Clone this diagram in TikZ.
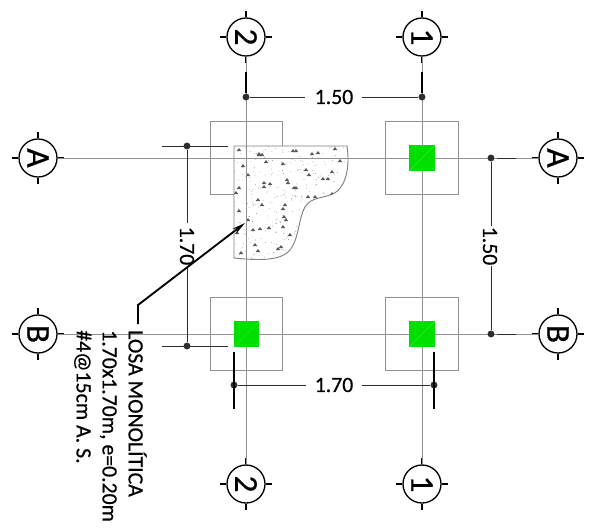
\documentclass[tikz,border=0pt]{standalone}
\usepackage{fontspec}
\setmainfont[FakeBold=0.6,BoldFont=Carlito]{Carlito}
\newfontfamily\heavyfont[FakeBold=0.6]{Carlito}
\usepackage{xcolor}
\usepackage{tikz}
\usetikzlibrary{arrows.meta}
\definecolor{nicegreen}{RGB}{0, 224, 0}
\definecolor{axisgray}{RGB}{145, 145, 145}
\definecolor{dimblack}{RGB}{45, 45, 45}
\tikzset{
	bubble/.style = {circle, draw = black, line width = 1pt, fill = white, minimum size = 28.5pt, inner sep = 0pt, rotate = -90, font = \heavyfont\fontsize{25}{25}\selectfont},
	axisline/.style = {draw = axisgray, line width = 0.7pt},
	footing/.style = {rectangle, draw = axisgray, line width = 0.7pt, minimum size = 54.5pt, inner sep = 0pt},
	column/.style = {rectangle, fill = nicegreen, minimum size = 19pt, inner sep = 0pt},
	dimdot/.style = {circle, fill = dimblack, minimum size = 5.2pt, inner sep = 0pt},
	dimline/.style = {draw = dimblack, line width = 0.7pt},
	dimtext/.style = {inner sep = 0pt, font = \heavyfont\fontsize{16.3}{16.3}\selectfont}
}

\begin{document}
\begin{tikzpicture}[x = 0.75pt, y = -0.75pt]
		\useasboundingbox (0,0) rectangle (589,529);
		% footings
		\node (f1) at (246.5,158) [footing] {};
		\node (f2) at (422,158) [footing] {};
		\node (f3) at (246.5,334) [footing] {};
		\node (f4) at (422,334) [footing] {};
		% slab
		\draw [draw = gray, line width = 0.7pt, fill = white] (234,146) -- (347,146)
			.. controls (350,165) and (347,190) .. (330,195)
			.. controls (318,199) and (308,198) .. (303,211)
			.. controls (298,225) and (298,240) .. (290,250)
			.. controls (280,262) and (255,260) .. (234,258) -- cycle;
		\begin{scope}
			\clip (234,146) -- (347,146)
				.. controls (350,165) and (347,190) .. (330,195)
				.. controls (318,199) and (308,198) .. (303,211)
				.. controls (298,225) and (298,240) .. (290,250)
				.. controls (280,262) and (255,260) .. (234,258) -- cycle;
			\pgfmathsetseed{7}
			\foreach \i in {1,...,300}
				\fill [gray] ({234+rnd*113},{146+rnd*112}) circle (0.4);
			\foreach \px/\py in {239/148, 259/152, 259/153, 262/153, 266/160, 293/149, 296/149, 312/152, 318/151, 335/147, 340/159, 283/162, 243/164, 248/173, 306/168, 309/173, 332/170, 287/178, 288/181, 323/177, 328/177, 264/181, 270/182, 264/185, 294/186, 296/186, 239/186, 236/191, 332/192, 308/195, 315/195, 258/198, 262/203, 285/203, 239/209, 248/218, 283/207, 284/215, 286/218, 283/225, 269/226, 260/227, 253/228, 237/231, 255/243, 258/249, 278/247, 281/245, 241/251, 290/233}
				\fill [black!65] (\px,\py) -- ++(2.2,3) -- ++(-4.4,0) -- cycle;
		\end{scope}
		% axis bubbles
		\node (t2) at (246,37) [bubble] {2};
		\node (t1) at (422,37) [bubble] {1};
		\node (b2) at (246,484) [bubble] {2};
		\node (b1) at (422,484) [bubble] {1};
		\node (la) at (38,158) [bubble] {A};
		\node (ra) at (558,158) [bubble] {A};
		\node (lb) at (38,334) [bubble] {B};
		\node (rb) at (558,334) [bubble] {B};
		\foreach \n in {t2,t1,b2,b1,la,ra,lb,rb} {
			\draw [line width = 1pt] (\n.east) -- ++(0,6);
			\draw [line width = 1pt] (\n.west) -- ++(0,-6);
			\draw [line width = 1pt] (\n.north) -- ++(6,0);
			\draw [line width = 1pt] (\n.south) -- ++(-6,0);
		}
		% axes
		\draw [axisline] (t2) edge (b2);
		\draw [axisline] (t1) edge (b1);
		\draw [axisline] (la) edge (ra);
		\draw [axisline] (lb) edge (rb);
		% columns
		\node (c2) at (422,158) [column] {};
		\node (c3) at (246.5,334) [column] {};
		\node (c4) at (422,334) [column] {};
		\foreach \n in {c2,c3,c4}
			\draw [nicegreen!65!white, line width = 0.25pt] (\n.south west) -- (\n.north east);
		% top dimension
		\node (d1) at (246,97) [dimdot] {};
		\node (d2) at (422,97) [dimdot] {};
		\node (d3) at (334,97) [dimtext] {1.50};
		\coordinate (d1t) at (246,72);
		\coordinate (d2t) at (422,72);
		\coordinate (d3l) at (305,97);
		\coordinate (d3r) at (362,97);
		\draw [dimline] (d1) -- (d3l);
		\draw [dimline] (d3r) -- (d2);
		\draw [line width = 0.9pt] (d1t) -- (d1);
		\draw [line width = 0.9pt] (d2t) -- (d2);
		% right dimension
		\node (e1) at (491,158) [dimdot] {};
		\node (e2) at (491,334) [dimdot] {};
		\node (e3) at (490,246) [dimtext, rotate = -90] {1.50};
		\coordinate (e1t) at (497,158);
		\coordinate (e1u) at (516,158);
		\coordinate (e2t) at (497,334);
		\coordinate (e2u) at (516,334);
		\draw [dimline] (e1) -- (491,226);
		\draw [dimline] (491,266) -- (e2);
		\draw [dimline] (e1t) -- (e1u);
		\draw [dimline] (e2t) -- (e2u);
		% left dimension
		\node (g1) at (187,146) [dimdot] {};
		\node (g2) at (187,346) [dimdot] {};
		\node (g3) at (187,246) [dimtext, rotate = -90] {1.70};
		\coordinate (g1l) at (162,146);
		\coordinate (g1r) at (228,146);
		\coordinate (g2l) at (162,346);
		\coordinate (g2r) at (228,346);
		\draw [dimline] (g1l) -- (g1r);
		\draw [dimline] (g2l) -- (g2r);
		\draw [dimline] (g1) -- (187,223);
		\draw [dimline] (187,268) -- (g2);
		% bottom dimension
		\node (h1) at (234,385) [dimdot] {};
		\node (h2) at (434,385) [dimdot] {};
		\node (h3) at (334,385) [dimtext] {1.70};
		\coordinate (h1t) at (234,352);
		\coordinate (h1b) at (234,409);
		\coordinate (h2t) at (434,352);
		\coordinate (h2b) at (434,409);
		\draw [line width = 0.8pt] (h1t) -- (h1b);
		\draw [line width = 0.8pt] (h2t) -- (h2b);
		\draw [dimline] (h1) -- (306,385);
		\draw [dimline] (362,385) -- (h2);
		% note with leader
		\node (note) at (147,330) [anchor = north west, rotate = -90, inner sep = 0pt, align = left, font = \heavyfont\fontsize{16.3}{19.5}\selectfont] {LOSA MONOLÍTICA\\1.70x1.70m, e=0.20m\\\#4@15cm A. S.};
		\coordinate (lk) at (138,305);
		\coordinate (tip) at (245,223);
		\coordinate (ls) at (138,324);
		\draw [line width = 1.4pt, -{Stealth[length = 10pt, width = 4.5pt]}] (ls) -- (lk) -- (tip);
		\end{tikzpicture}
\end{document}
